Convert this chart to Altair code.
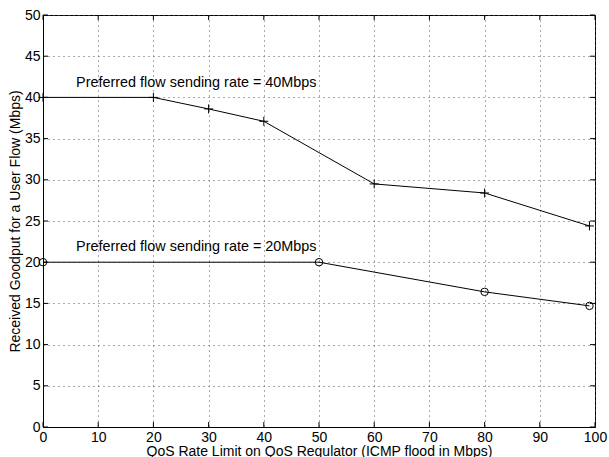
import altair as alt
import pandas as pd

# ---- data ----
x40 = [0, 20, 30, 40, 60, 80, 99]
y40 = [40, 40, 38.6, 37.1, 29.5, 28.4, 24.4]
x20 = [0, 50, 80, 99]
y20 = [20, 20, 16.4, 14.7]
x_ticks = [0, 10, 20, 30, 40, 50, 60, 70, 80, 90, 100]
y_ticks = [0, 5, 10, 15, 20, 25, 30, 35, 40, 45, 50]
ann_text = ["Preferred flow sending rate = 40Mbps", "Preferred flow sending rate = 20Mbps"]
ann_x = [6, 6]
ann_y = [41.75, 21.8]
x_title = "QoS Rate Limit on QoS Regulator (ICMP flood in Mbps)"
y_title = "Received Goodput for a User Flow (Mbps)"

W, H = 552, 412
FONT = "Liberation Sans"

df40 = pd.DataFrame({"x": x40, "y": y40, "series": "40"})
df20 = pd.DataFrame({"x": x20, "y": y20, "series": "20"})
dfall = pd.concat([df40, df20])
dfx = pd.DataFrame({"x": x_ticks})
dfy = pd.DataFrame({"y": y_ticks})
dfa = pd.DataFrame({"t": ann_text, "x": ann_x, "y": ann_y})

xs = alt.Scale(domain=[0, 100], nice=False, zero=False)
ys = alt.Scale(domain=[0, 50], nice=False, zero=False)

xaxis = alt.Axis(values=x_ticks, title=x_title, ticks=False, labelPadding=3,
                 labelFlush=False, labelOverlap=False, titlePadding=0,
                 grid=True, gridColor="#555555", gridDash=[1, 4], gridWidth=1,
                 domainColor="black")
yaxis = alt.Axis(values=y_ticks, title=y_title, ticks=False, labelPadding=3,
                 labelFlush=False, labelOverlap=False, titlePadding=2,
                 grid=True, gridColor="#555555", gridDash=[1, 4], gridWidth=1,
                 domainColor="black")

X = alt.X("x:Q", scale=xs, axis=xaxis)
Y = alt.Y("y:Q", scale=ys, axis=yaxis)

lines = alt.Chart(dfall).mark_line(color="black", strokeWidth=1).encode(
    x=X, y=Y, detail="series:N",
)

plus = alt.Chart(df40).mark_point(
    shape="M-1,0L1,0M0,-1L0,1", size=81, filled=False, color="black", strokeWidth=1, opacity=1
).encode(x=X, y=Y)

circ = alt.Chart(df20).mark_point(
    shape="circle", size=56, filled=False, color="black", strokeWidth=1, opacity=1
).encode(x=X, y=Y)

ann = alt.Chart(dfa).mark_text(
    align="left", baseline="middle", fontSize=14.4, font=FONT, color="black"
).encode(x=X, y=Y, text="t:N")

TL = 5
yt_left = alt.Chart(dfy).mark_rule(color="black", strokeWidth=1).encode(
    y=Y, x=alt.value(0), x2=alt.value(TL))
yt_right = alt.Chart(dfy).mark_rule(color="black", strokeWidth=1).encode(
    y=Y, x=alt.value(W - TL), x2=alt.value(W))
xt_bot = alt.Chart(dfx).mark_rule(color="black", strokeWidth=1).encode(
    x=X, y=alt.value(H - TL), y2=alt.value(H))
xt_top = alt.Chart(dfx).mark_rule(color="black", strokeWidth=1).encode(
    x=X, y=alt.value(0), y2=alt.value(TL))

chart = alt.layer(lines, plus, circ, ann, yt_left, yt_right, xt_bot, xt_top).properties(
    width=W, height=H,
    autosize=alt.AutoSizeParams(type="none"),
    padding={"left": 43, "top": 15, "right": 14, "bottom": 30},
    background="white",
).configure_view(stroke="black", strokeWidth=1).configure_axis(
    labelFont=FONT, titleFont=FONT, labelFontSize=14, titleFontSize=14,
    titleFontWeight="normal", labelColor="black", titleColor="black",
).configure_text(font=FONT)

chart.save("out.html", embed_options={"renderer": "svg", "actions": False})
